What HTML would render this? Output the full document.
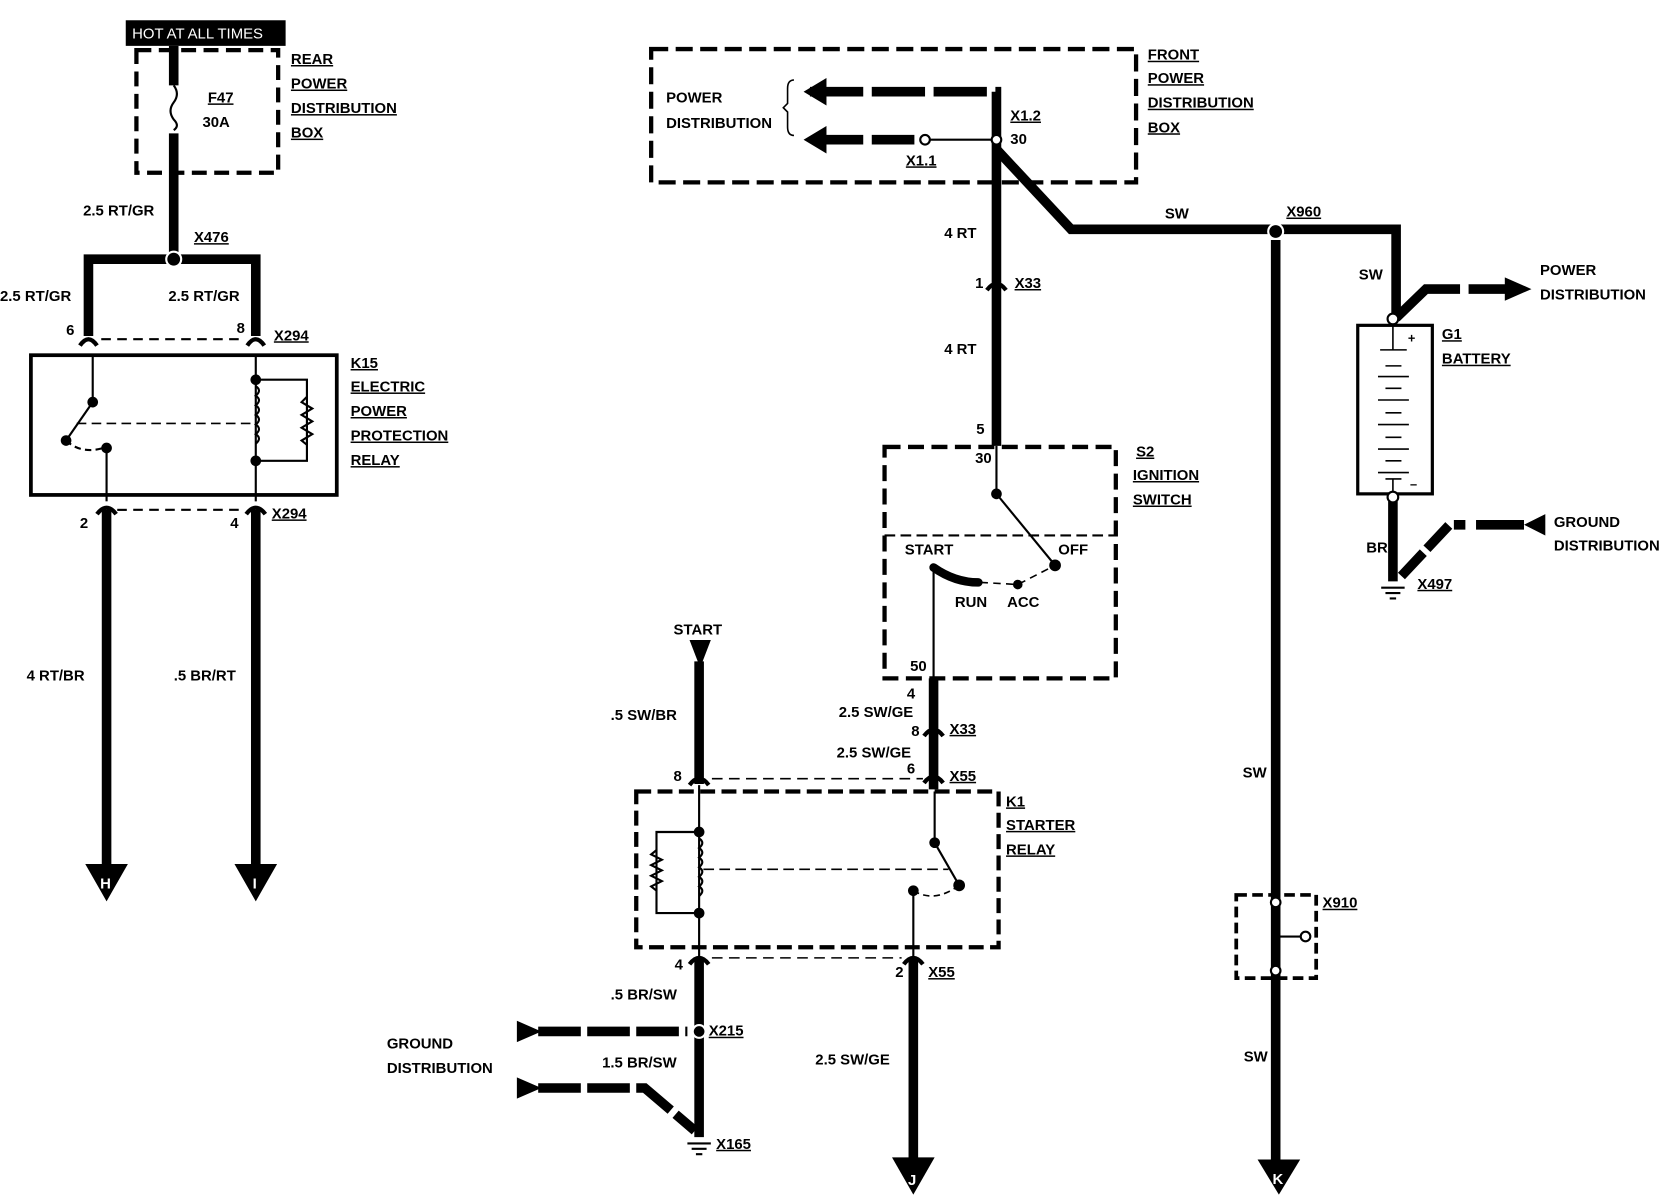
<!DOCTYPE html>
<html><head><meta charset="utf-8"><style>
html,body{margin:0;padding:0;background:#fff;}
svg{display:block}
text{font-family:"Liberation Sans",sans-serif;font-weight:bold;font-size:14px;fill:#000}
.u{text-decoration:underline}
</style></head><body>
<svg width="1670" height="1200" viewBox="0 0 1567 1125" preserveAspectRatio="none" xmlns="http://www.w3.org/2000/svg">
<g fill="none" stroke="#000">
<!-- LEFT: fuse box -->
<rect x="118" y="19" width="150" height="24" fill="#000" stroke="none"/>
<rect x="128" y="47" width="133" height="115" stroke-width="4" stroke-dasharray="14,7"/>
<line x1="163" y1="43" x2="163" y2="80" stroke-width="9"/>
<path d="M163 80 q6 8 0 16 q-6 8 0 16 q6 6 0 10" stroke-width="2"/>
<line x1="163" y1="125" x2="163" y2="243" stroke-width="9"/>
<path d="M83 315 V243 H240 V315" stroke-width="9"/>
<circle cx="163" cy="243" r="7" fill="#000" stroke="#fff" stroke-width="2"/>
<path d="M75 324 q8 -12 16 0 M232 324 q8 -12 16 0" stroke-width="4"/>
<line x1="95" y1="318" x2="230" y2="318" stroke-width="2" stroke-dasharray="9,6"/>
<!-- K15 -->
<rect x="29" y="333" width="287" height="131" stroke-width="3.5"/>
<line x1="87" y1="333" x2="87" y2="377" stroke-width="2"/>
<line x1="87" y1="377" x2="62" y2="413" stroke-width="2"/>
<path d="M62 413 q15 14 38 6" stroke-width="2" stroke-dasharray="6,4"/>
<line x1="100" y1="420" x2="100" y2="470" stroke-width="2"/>
<line x1="72" y1="397" x2="240" y2="397" stroke-width="1.5" stroke-dasharray="9,5"/>
<line x1="240" y1="333" x2="240" y2="470" stroke-width="2"/>
<path d="M240 356 H288 V432 H240" stroke-width="2"/>
<path d="M288 372 l-5 5 l10 6 l-10 6 l10 6 l-10 6 l10 6 l-10 6 l5 4" stroke-width="2"/>
<path d="M240 362 q6 4 0 9 q6 4 0 9 q6 4 0 9 q6 4 0 9 q6 4 0 9 q6 4 0 9" stroke-width="2"/>
<g fill="#000" stroke="none">
<circle cx="87" cy="377" r="5"/><circle cx="62" cy="413" r="5"/><circle cx="100" cy="420" r="5"/>
<circle cx="240" cy="356" r="5"/><circle cx="240" cy="432" r="5"/>
</g>
<path d="M91 482 q9 -12 18 0 M231 482 q9 -12 18 0" stroke-width="4"/>
<line x1="110" y1="478" x2="230" y2="478" stroke-width="2" stroke-dasharray="9,6"/>
<line x1="100" y1="478" x2="100" y2="812" stroke-width="9"/>
<line x1="240" y1="478" x2="240" y2="812" stroke-width="9"/>
<path d="M80 810 H120 L100 845 Z M220 810 H260 L240 845 Z" fill="#000" stroke="none"/>

<!-- FRONT BOX -->
<rect x="611" y="46" width="455" height="125" stroke-width="4" stroke-dasharray="16,7"/>
<path d="M760 86 H935 V131" stroke-width="9" stroke-dasharray="50,8"/>
<path d="M755 86 l20 -12 v24 z M755 131 l20 -12 v24 z" fill="#000" stroke-width="1"/>
<line x1="770" y1="131" x2="866" y2="131" stroke-width="9" stroke-dasharray="40,8"/>
<line x1="868" y1="131" x2="935" y2="131" stroke-width="2"/>
<path d="M745 75 q-6 0 -6 8 v14 l-4 4 l4 4 v14 q0 8 6 8" stroke-width="1.5"/>
<line x1="935" y1="131" x2="935" y2="418" stroke-width="9"/>
<path d="M935 140 L1005 215 H1310 V298" stroke-width="9"/>
<circle cx="868" cy="131" r="4.5" fill="#fff" stroke-width="2"/>
<circle cx="935" cy="131" r="4.5" fill="#fff" stroke-width="2"/>
<circle cx="1197" cy="217" r="7" fill="#000" stroke="#fff" stroke-width="2"/>
<path d="M926 272 q9 -12 18 0" stroke-width="4"/>
<!-- battery -->
<path d="M1310 298 L1338 271 H1370" stroke-width="9"/>
<line x1="1378" y1="271" x2="1415" y2="271" stroke-width="9"/>
<path d="M1412 260 L1437 271 L1412 282 Z" fill="#000" stroke="none"/>
<rect x="1274" y="305" width="70" height="158" stroke-width="3"/>
<g stroke-width="1.5">
<line x1="1307" y1="305" x2="1307" y2="328"/><line x1="1295" y1="328" x2="1320" y2="328"/>
<line x1="1300" y1="343" x2="1315" y2="343"/><line x1="1293" y1="353" x2="1322" y2="353"/>
<line x1="1300" y1="364" x2="1315" y2="364"/><line x1="1293" y1="375" x2="1322" y2="375"/>
<line x1="1300" y1="387" x2="1315" y2="387"/><line x1="1293" y1="398" x2="1322" y2="398"/>
<line x1="1300" y1="410" x2="1315" y2="410"/><line x1="1293" y1="421" x2="1322" y2="421"/>
<line x1="1300" y1="432" x2="1315" y2="432"/><line x1="1293" y1="443" x2="1322" y2="443"/>
<line x1="1300" y1="449" x2="1315" y2="449"/><line x1="1307" y1="449" x2="1307" y2="463"/>
</g>
<line x1="1307" y1="470" x2="1307" y2="545" stroke-width="9"/>
<path d="M1315 540 L1360 492 H1375" stroke-width="9" stroke-dasharray="30,5"/>
<line x1="1385" y1="492" x2="1430" y2="492" stroke-width="9"/>
<path d="M1430 492 L1450 482 V502 Z" fill="#000" stroke="none"/>
<circle cx="1307" cy="299" r="5" fill="#fff" stroke-width="2"/>
<circle cx="1307" cy="466" r="5" fill="#fff" stroke-width="2"/>
<path d="M1296 551 h22 M1300 556 h14 M1304 561 h6" stroke-width="2"/>
<!-- X960 down to K -->
<line x1="1197" y1="225" x2="1197" y2="1090" stroke-width="9"/>
<rect x="1160" y="839" width="75" height="78" stroke-width="3.5" stroke-dasharray="10,5"/>
<path d="M1197 878 H1226" stroke-width="2"/>
<circle cx="1197" cy="846" r="4.5" fill="#fff" stroke-width="2"/>
<circle cx="1197" cy="910" r="4.5" fill="#fff" stroke-width="2"/>
<circle cx="1225" cy="878" r="4.5" fill="#fff" stroke-width="2"/>
<path d="M1180 1087 H1220 L1200 1120 Z" fill="#000" stroke="none"/>

<!-- S2 ignition switch -->
<rect x="830" y="419" width="217" height="217" stroke-width="4" stroke-dasharray="15,7"/>
<line x1="830" y1="502" x2="1047" y2="502" stroke-width="2" stroke-dasharray="10,5"/>
<line x1="935" y1="418" x2="935" y2="463" stroke-width="2"/>
<line x1="935" y1="463" x2="990" y2="530" stroke-width="2"/>
<path d="M876 532 q20 14 42 14" stroke-width="8" stroke-linecap="round"/>
<path d="M920 546 L955 548 L990 530" stroke-width="1.5" stroke-dasharray="7,5"/>
<line x1="876" y1="532" x2="876" y2="636" stroke-width="2"/>
<g fill="#000" stroke="none"><circle cx="935" cy="463" r="5"/><circle cx="990" cy="530" r="5.5"/><circle cx="955" cy="548" r="4.5"/></g>
<line x1="876" y1="636" x2="876" y2="740" stroke-width="9"/>
<path d="M867 690 q9 -12 18 0 M867 734 q9 -12 18 0" stroke-width="4"/>

<!-- K1 starter relay -->
<path d="M647 600 H667 L657 626 Z" fill="#000" stroke="none"/>
<line x1="656" y1="620" x2="656" y2="735" stroke-width="9"/>
<path d="M647 736 q9 -12 18 0" stroke-width="4"/>
<line x1="668" y1="730" x2="866" y2="730" stroke-width="1.5" stroke-dasharray="10,6"/>
<rect x="597" y="742" width="340" height="146" stroke-width="4" stroke-dasharray="14,6"/>
<line x1="656" y1="736" x2="656" y2="905" stroke-width="2"/>
<path d="M656 780 H616 V856 H656" stroke-width="2"/>
<path d="M616 797 l-5 4 l10 5 l-10 5 l10 5 l-10 5 l10 5 l-10 5 l5 4" stroke-width="2"/>
<path d="M656 786 q6 4 0 9 q6 4 0 9 q6 4 0 9 q6 4 0 9 q6 4 0 9 q6 4 0 9" stroke-width="2"/>
<line x1="660" y1="815" x2="890" y2="815" stroke-width="1.5" stroke-dasharray="10,5"/>
<line x1="877" y1="742" x2="877" y2="790" stroke-width="2"/>
<line x1="877" y1="790" x2="900" y2="830" stroke-width="2"/>
<path d="M857 835 q20 12 43 -5" stroke-width="1.5" stroke-dasharray="6,4"/>
<line x1="857" y1="835" x2="857" y2="898" stroke-width="2"/>
<g fill="#000" stroke="none"><circle cx="656" cy="780" r="5"/><circle cx="656" cy="856" r="5"/><circle cx="877" cy="790" r="5"/><circle cx="900" cy="830" r="5.5"/><circle cx="857" cy="835" r="5"/></g>
<path d="M647 904 q9 -12 18 0 M848 904 q9 -12 18 0" stroke-width="4"/>
<line x1="668" y1="898" x2="846" y2="898" stroke-width="1.5" stroke-dasharray="10,6"/>
<line x1="656" y1="900" x2="656" y2="1066" stroke-width="9"/>
<line x1="857" y1="900" x2="857" y2="1088" stroke-width="9"/>
<path d="M837 1085 H877 L857 1120 Z" fill="#000" stroke="none"/>
<path d="M485 957 L508 967 L485 977 Z M485 1010 L508 1020 L485 1030 Z" fill="#000" stroke="none"/>
<line x1="505" y1="967" x2="645" y2="967" stroke-width="9" stroke-dasharray="40,6"/>
<circle cx="656" cy="967" r="6" fill="#000" stroke="#fff" stroke-width="2"/>
<path d="M505 1020 H605 L652 1060" stroke-width="9" stroke-dasharray="40,6"/>
<path d="M645 1072 h22 M649 1077 h14 M653 1082 h6" stroke-width="2"/>
</g>

<g>
<text x="124" y="36" style="fill:#fff;font-size:14px;font-weight:normal">HOT AT ALL TIMES</text>
<text x="273" y="60" class="u">REAR</text>
<text x="273" y="83" class="u">POWER</text>
<text x="273" y="106" class="u">DISTRIBUTION</text>
<text x="273" y="129" class="u">BOX</text>
<text x="195" y="96" class="u">F47</text>
<text x="190" y="119">30A</text>
<text x="78" y="202">2.5 RT/GR</text>
<text x="182" y="227" class="u">X476</text>
<text x="0" y="282">2.5 RT/GR</text>
<text x="158" y="282">2.5 RT/GR</text>
<text x="62" y="314">6</text>
<text x="222" y="312">8</text>
<text x="257" y="319" class="u">X294</text>
<text x="329" y="345" class="u">K15</text>
<text x="329" y="367" class="u">ELECTRIC</text>
<text x="329" y="390" class="u">POWER</text>
<text x="329" y="413" class="u">PROTECTION</text>
<text x="329" y="436" class="u">RELAY</text>
<text x="75" y="495">2</text>
<text x="216" y="495">4</text>
<text x="255" y="486" class="u">X294</text>
<text x="25" y="638">4 RT/BR</text>
<text x="163" y="638">.5 BR/RT</text>
<text x="94" y="833" style="fill:#fff">H</text>
<text x="237" y="833" style="fill:#fff">I</text>

<text x="625" y="96">POWER</text>
<text x="625" y="120">DISTRIBUTION</text>
<text x="1077" y="56" class="u">FRONT</text>
<text x="1077" y="78" class="u">POWER</text>
<text x="1077" y="101" class="u">DISTRIBUTION</text>
<text x="1077" y="124" class="u">BOX</text>
<text x="948" y="113" class="u">X1.2</text>
<text x="948" y="135">30</text>
<text x="850" y="155" class="u">X1.1</text>
<text x="886" y="223">4 RT</text>
<text x="1093" y="205">SW</text>
<text x="1207" y="203" class="u">X960</text>
<text x="915" y="270">1</text>
<text x="952" y="270" class="u">X33</text>
<text x="886" y="332">4 RT</text>
<text x="916" y="407">5</text>
<text x="915" y="434">30</text>
<text x="1066" y="428" class="u">S2</text>
<text x="1063" y="450" class="u">IGNITION</text>
<text x="1063" y="473" class="u">SWITCH</text>
<text x="849" y="520">START</text>
<text x="993" y="520">OFF</text>
<text x="896" y="569">RUN</text>
<text x="945" y="569">ACC</text>
<text x="854" y="629">50</text>
<text x="851" y="655">4</text>
<text x="787" y="672">2.5 SW/GE</text>
<text x="855" y="690">8</text>
<text x="891" y="688" class="u">X33</text>
<text x="785" y="710">2.5 SW/GE</text>
<text x="851" y="725">6</text>
<text x="891" y="732" class="u">X55</text>
<text x="944" y="756" class="u">K1</text>
<text x="944" y="778" class="u">STARTER</text>
<text x="944" y="801" class="u">RELAY</text>
<text x="632" y="595">START</text>
<text x="573" y="675">.5 SW/BR</text>
<text x="632" y="732">8</text>
<text x="633" y="909">4</text>
<text x="840" y="916">2</text>
<text x="871" y="916" class="u">X55</text>
<text x="573" y="937">.5 BR/SW</text>
<text x="665" y="971" class="u">X215</text>
<text x="565" y="1001">1.5 BR/SW</text>
<text x="363" y="983">GROUND</text>
<text x="363" y="1006">DISTRIBUTION</text>
<text x="672" y="1077" class="u">X165</text>
<text x="765" y="998">2.5 SW/GE</text>
<text x="852" y="1111" style="fill:#fff">J</text>

<text x="1275" y="262">SW</text>
<text x="1445" y="258">POWER</text>
<text x="1445" y="281">DISTRIBUTION</text>
<text x="1353" y="318" class="u">G1</text>
<text x="1353" y="341" class="u">BATTERY</text>
<text x="1321" y="321" style="font-size:12px">+</text>
<text x="1323" y="458" style="font-size:12px">–</text>
<text x="1282" y="518">BR</text>
<text x="1330" y="552" class="u">X497</text>
<text x="1458" y="494">GROUND</text>
<text x="1458" y="516">DISTRIBUTION</text>
<text x="1241" y="851" class="u">X910</text>
<text x="1166" y="729">SW</text>
<text x="1167" y="995">SW</text>
<text x="1194" y="1110" style="fill:#fff">K</text>
</g>
</svg>
</body></html>
